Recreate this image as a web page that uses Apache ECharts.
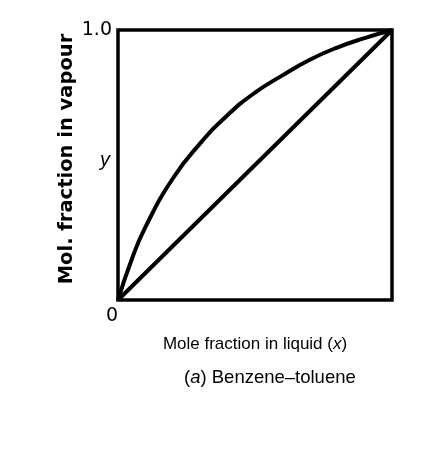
<!DOCTYPE html>
<html><head><meta charset="utf-8">
<script src="https://cdn.jsdelivr.net/npm/echarts@6/dist/echarts.min.js"></script>
<style>html,body{margin:0;padding:0;background:#fff}#c{width:429px;height:451px}</style>
</head><body><div id="c"></div>
<script>
// Equilibrium curve (benzene–toluene)
const liquidX = [0, 0.05, 0.1, 0.2, 0.3, 0.4, 0.5, 0.6, 0.7, 0.8, 0.9, 1];
const vapourY = [0, 0.15, 0.27, 0.45, 0.58, 0.685, 0.768, 0.832, 0.89, 0.935, 0.97, 1];
// Diagonal y = x
const diagX = [0, 1];
const diagY = [0, 1];
// Tick labels
const yTickValues = [0, 0.5, 1];
const yTickLabels = ['', '{i|y}', '1.0'];
const xTickValues = [0];
const xTickLabels = ['0'];

const chart = echarts.init(document.getElementById('c'));
const F = '"Liberation Sans", Arial, sans-serif';
const D = '"DejaVu Sans", sans-serif';
chart.setOption({
  animation: false,
  grid: {left: 118, top: 30, width: 274, height: 270, show: true, borderColor: '#000', borderWidth: 3.5, backgroundColor: 'transparent'},
  xAxis: {
    type: 'value', min: 0, max: 1, interval: 0.5,
    axisLine: {show: false}, axisTick: {show: false}, splitLine: {show: false},
    axisLabel: {
      fontFamily: D, fontSize: 19, color: '#000', margin: 7, align: 'right',
      formatter: v => { const i = xTickValues.indexOf(v); return i >= 0 ? xTickLabels[i] : ''; }
    },
    name: 'Mole fraction in liquid ({i|x})', nameLocation: 'middle', nameGap: 36, nameMoveOverlap: false,
    nameTextStyle: {fontFamily: F, fontSize: 17, color: '#000', rich: {i: {fontFamily: F, fontSize: 17, fontStyle: 'italic', color: '#000'}}}
  },
  yAxis: {
    type: 'value', min: 0, max: 1, interval: 0.5,
    axisLine: {show: false}, axisTick: {show: false}, splitLine: {show: false},
    axisLabel: {
      fontFamily: D, fontSize: 19, color: '#000', margin: 6,
      formatter: v => { const i = yTickValues.indexOf(v); return i >= 0 ? yTickLabels[i] : ''; },
      rich: {i: {fontFamily: F, fontSize: 20, fontStyle: 'italic', color: '#000', padding: [0, 2, 10, 0]}}
    },
    name: 'Mol. fraction in vapour', nameLocation: 'middle', nameGap: 41, nameRotate: 90, nameMoveOverlap: false,
    nameTextStyle: {fontFamily: D, fontSize: 19.5, fontWeight: 'bold', color: '#000', padding: [0, 0, 0, 12]}
  },
  title: {
    text: '({i|a}) Benzene–toluene', left: 179, top: 363,
    textStyle: {fontFamily: F, fontSize: 18.5, fontWeight: 'normal', color: '#000', rich: {i: {fontFamily: F, fontSize: 18.5, fontStyle: 'italic', color: '#000'}}}
  },
  series: [
    {type: 'line', data: liquidX.map((x, i) => [x, vapourY[i]]), smooth: 0.5, symbol: 'none',
     lineStyle: {color: '#000', width: 4}},
    {type: 'line', data: diagX.map((x, i) => [x, diagY[i]]), symbol: 'none',
     lineStyle: {color: '#000', width: 4}}
  ]
});
</script></body></html>
